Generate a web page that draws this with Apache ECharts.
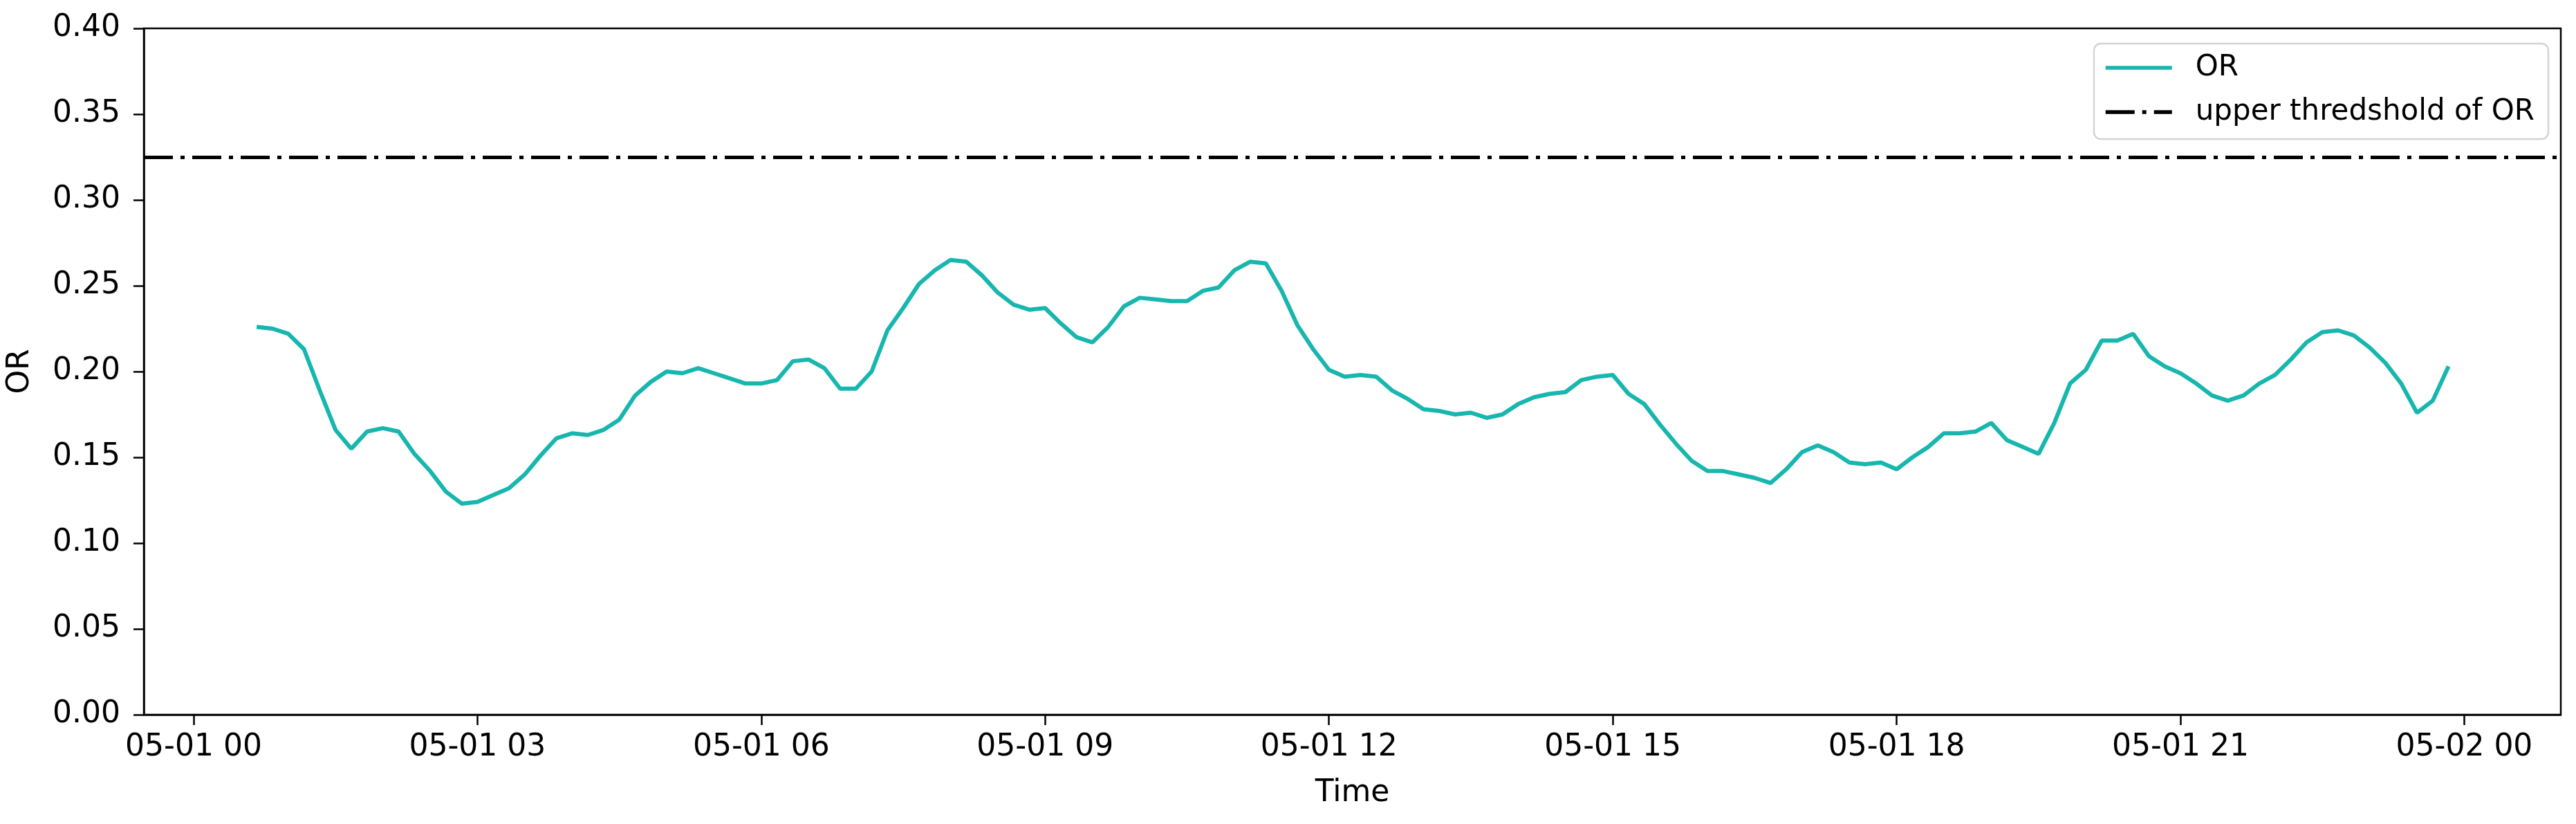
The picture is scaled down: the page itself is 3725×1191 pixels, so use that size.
<!DOCTYPE html>
<html>
<head>
<meta charset="utf-8">
<title>OR</title>
<script src="https://cdn.jsdelivr.net/npm/echarts@6/dist/echarts.min.js"></script>
<style>
  html, body { margin: 0; padding: 0; background: #fff; }
  #chart { width: 3725px; height: 1191px; }
</style>
</head>
<body>
<div id="chart"></div>
<script>
// OR readings, one every 10 minutes from 05-01 00:40 to 05-01 23:50
const dayStart = '2019-05-01 00:00';
const startHour = 40 / 60;
const stepHours = 10 / 60;
const orValues = [
  0.226, 0.225, 0.222, 0.213, 0.189, 0.166, 0.155, 0.165, 0.167, 0.165, 0.152, 0.142,
  0.130, 0.123, 0.124, 0.128, 0.132, 0.140, 0.151, 0.161, 0.164, 0.163, 0.166, 0.172,
  0.186, 0.194, 0.200, 0.199, 0.202, 0.199, 0.196, 0.193, 0.193, 0.195, 0.206, 0.207,
  0.202, 0.190, 0.190, 0.200, 0.224, 0.237, 0.251, 0.259, 0.265, 0.264, 0.256, 0.246,
  0.239, 0.236, 0.237, 0.228, 0.220, 0.217, 0.226, 0.238, 0.243, 0.242, 0.241, 0.241,
  0.247, 0.249, 0.259, 0.264, 0.263, 0.247, 0.227, 0.213, 0.201, 0.197, 0.198, 0.197,
  0.189, 0.184, 0.178, 0.177, 0.175, 0.176, 0.173, 0.175, 0.181, 0.185, 0.187, 0.188,
  0.195, 0.197, 0.198, 0.187, 0.181, 0.169, 0.158, 0.148, 0.142, 0.142, 0.140, 0.138,
  0.135, 0.143, 0.153, 0.157, 0.153, 0.147, 0.146, 0.147, 0.143, 0.150, 0.156, 0.164,
  0.164, 0.165, 0.170, 0.160, 0.156, 0.152, 0.170, 0.193, 0.201, 0.218, 0.218, 0.222,
  0.209, 0.203, 0.199, 0.193, 0.186, 0.183, 0.186, 0.193, 0.198, 0.207, 0.217, 0.223,
  0.224, 0.221, 0.214, 0.205, 0.193, 0.176, 0.183, 0.203
];
const upperThreshold = 0.325;

// x ticks every 3 hours; axis range in hours from 05-01 00:00
const tickHours = [0, 3, 6, 9, 12, 15, 18, 21, 24];
const xRangeHours = [-0.526, 25.02];

const HOUR = 3600 * 1000;
const day0 = new Date(dayStart.replace(' ', 'T')).getTime();
const orData = orValues.map((v, i) => [startHour + i * stepHours, v]);
const hourLabel = h => echarts.time.format(day0 + Math.round(h) * HOUR, '{MM}-{dd} {HH}', false);

const FONT = 'DejaVu Sans';
const FS = 44;
const dashDot = [42, 11, 6, 11];

const option = {
  backgroundColor: '#fff',
  animation: false,
  grid: {
    left: 208,
    right: 22,
    top: 41,
    bottom: 158,
    show: true,
    borderColor: '#000',
    borderWidth: 2.5
  },
  legend: {
    right: 40,
    top: 63,
    orient: 'vertical',
    align: 'left',
    itemWidth: 96,
    itemHeight: 30,
    itemGap: 22,
    padding: [14, 20, 18, 14],
    backgroundColor: 'rgba(255,255,255,0.8)',
    borderColor: '#d4d4d4',
    borderWidth: 2.5,
    borderRadius: 10,
    itemStyle: { opacity: 0 },
    lineStyle: { width: 5.5 },
    textStyle: {
      fontFamily: FONT,
      fontSize: 42,
      color: '#000',
      padding: [0, 0, 0, 29]
    },
    data: ['OR', 'upper thredshold of OR']
  },
  xAxis: {
    type: 'value',
    min: xRangeHours[0],
    max: xRangeHours[1],
    name: 'Time',
    nameLocation: 'middle',
    nameGap: 92,
    nameTextStyle: { fontFamily: FONT, fontSize: FS, color: '#000' },
    axisLine: { show: true, onZero: false, lineStyle: { color: '#000', width: 2.5 } },
    axisTick: {
      show: true,
      length: 15,
      lineStyle: { color: '#000', width: 2.5 },
      customValues: tickHours
    },
    axisLabel: {
      customValues: tickHours,
      formatter: hourLabel,
      fontFamily: FONT,
      fontSize: FS,
      color: '#000',
      margin: 26
    },
    splitLine: { show: false }
  },
  yAxis: {
    type: 'value',
    min: 0,
    max: 0.4,
    interval: 0.05,
    name: 'OR',
    nameLocation: 'middle',
    nameGap: 156,
    nameTextStyle: { fontFamily: FONT, fontSize: FS, color: '#000' },
    axisLine: { show: true, onZero: false, lineStyle: { color: '#000', width: 2.5 } },
    axisTick: { show: true, length: 15, lineStyle: { color: '#000', width: 2.5 } },
    axisLabel: {
      formatter: v => v.toFixed(2),
      fontFamily: FONT,
      fontSize: FS,
      color: '#000',
      margin: 34
    },
    splitLine: { show: false }
  },
  series: [
    {
      name: 'OR',
      type: 'line',
      data: orData,
      symbol: 'none',
      showSymbol: false,
      itemStyle: { color: '#17b6ae' },
      lineStyle: { color: '#17b6ae', width: 6 },
      z: 3
    },
    {
      name: 'upper thredshold of OR',
      type: 'line',
      data: [],
      symbol: 'none',
      showSymbol: false,
      itemStyle: { color: '#000' },
      lineStyle: { color: '#000', width: 5, type: dashDot },
      markLine: {
        silent: true,
        precision: 4,
        symbol: ['none', 'none'],
        label: { show: false },
        lineStyle: { color: '#000', width: 5, type: dashDot },
        data: [{ yAxis: upperThreshold }]
      }
    }
  ]
};

const chart = echarts.init(document.getElementById('chart'));
chart.setOption(option);
</script>
</body>
</html>
